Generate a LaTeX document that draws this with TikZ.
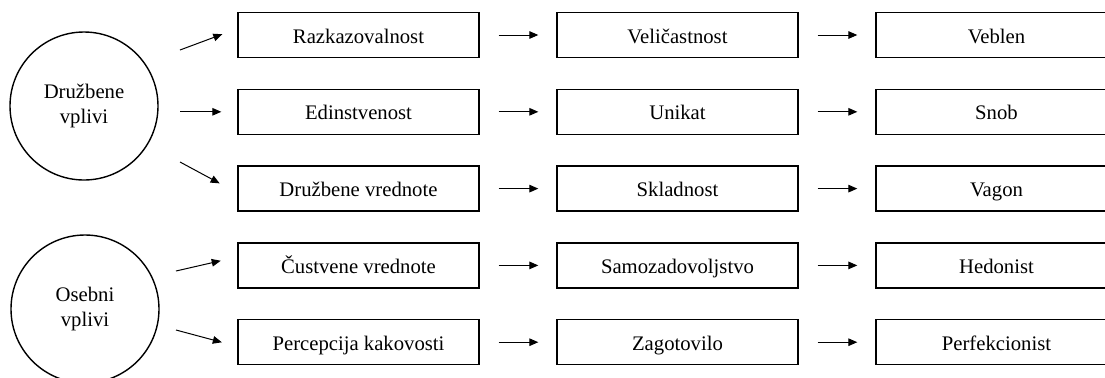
\documentclass[tikz,border=0pt]{standalone}
\usepackage{fontspec}
\setmainfont{Liberation Serif}
\usetikzlibrary{arrows.meta, positioning}

\begin{document}
\begin{tikzpicture}[
  x=0.5pt, y=-0.5pt,
  box/.style   = {rectangle, draw, line width=0.7pt, minimum width=120.5pt,
                  minimum height=22.5pt, inner sep=0pt,
                  text height=9.2pt, text depth=1.2pt,
                  font=\fontsize{10.35pt}{12.5pt}\selectfont},
  infl/.style  = {circle, draw, line width=0.7pt, minimum size=74pt,
                  inner sep=0pt, align=center,
                  font=\fontsize{10.35pt}{12.5pt}\selectfont},
  arrow/.style = {-{Triangle[length=4.5pt, width=3.8pt]}, line width=0.5pt},
  chain/.style = {arrow, shorten <=9.5pt, shorten >=9pt},
  node distance = 15.2pt and 38.3pt
]

\useasboundingbox (0,0) rectangle (1105,377);
\clip (0,0) rectangle (1105,377);

% ── Influences (left) ───────────────────────────────────────────────────────
\node[infl] (soc)  at (84,106) {Družbene\\vplivi};
\node[infl] (pers) at (85,309) {Osebni\\vplivi};

% ── Value chains ────────────────────────────────────────────────────────────
\node[box] (raz) at (358.5,35) {Razkazovalnost};
\node[box, right=of raz] (vel) {Veličastnost};
\node[box, right=of vel] (veb) {Veblen};

\node[box, below=of raz] (edi) {Edinstvenost};
\node[box, right=of edi] (uni) {Unikat};
\node[box, right=of uni] (sno) {Snob};

\node[box, below=of edi] (dru) {Družbene vrednote};
\node[box, right=of dru] (skl) {Skladnost};
\node[box, right=of skl] (vag) {Vagon};

\node[box, below=of dru] (cus) {Čustvene vrednote};
\node[box, right=of cus] (sam) {Samozadovoljstvo};
\node[box, right=of sam] (hed) {Hedonist};

\node[box, below=of cus] (per) {Percepcija kakovosti};
\node[box, right=of per] (zag) {Zagotovilo};
\node[box, right=of zag] (pfk) {Perfekcionist};

% ── Influence arrows (free tails) ───────────────────────────────────────────
\coordinate (s1) at (180,50);
\coordinate (s3) at (180,162);
\coordinate (s4) at (176,271);
\coordinate (s5) at (176,330);

\draw[arrow, shorten >=8pt]   (s1) -- (raz.177.5);
\draw[arrow, shorten >=8pt]   (edi.west -| s1) -- (edi.west);
\draw[arrow, shorten >=10pt]  (s3) -- (dru.182.6);
\draw[arrow, shorten >=8.5pt] (s4) -- (cus.176);
\draw[arrow, shorten >=8pt]   (s5) -- (per.182.4);

% ── Chain arrows ────────────────────────────────────────────────────────────
\draw[chain] (raz) -- (vel);
\draw[chain] (vel) -- (veb);
\draw[chain] (edi) -- (uni);
\draw[chain] (uni) -- (sno);
\draw[chain] (dru) -- (skl);
\draw[chain] (skl) -- (vag);
\draw[chain] (cus) -- (sam);
\draw[chain] (sam) -- (hed);
\draw[chain] (per) -- (zag);
\draw[chain] (zag) -- (pfk);

\end{tikzpicture}
\end{document}
